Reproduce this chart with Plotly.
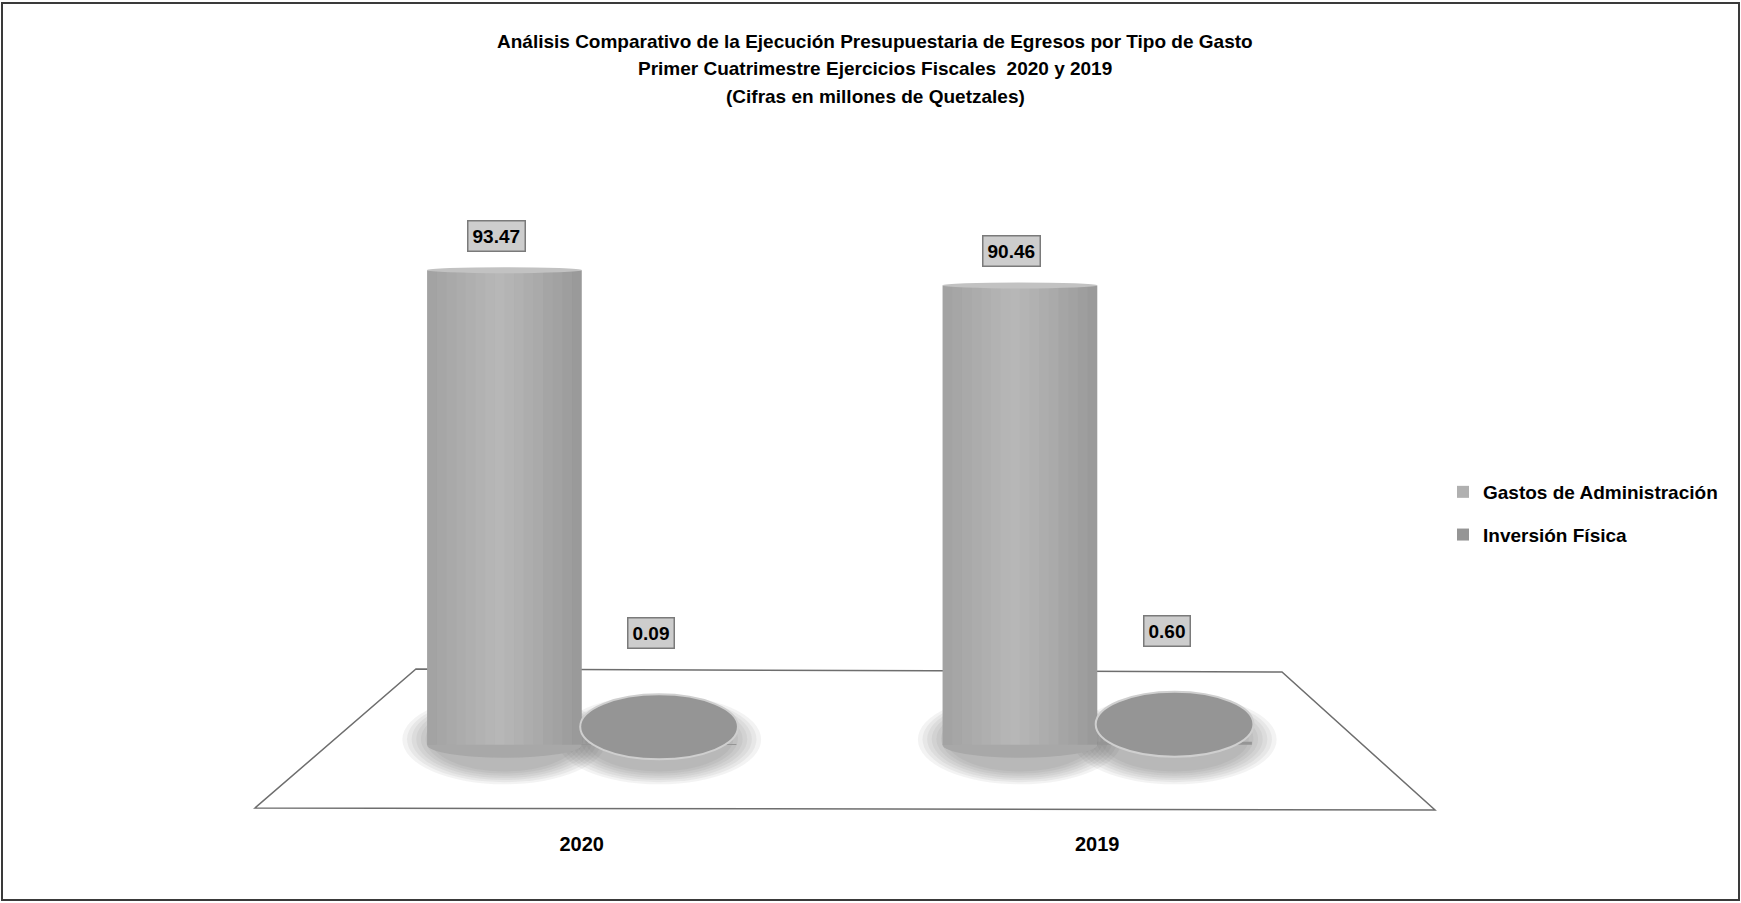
import plotly.graph_objects as go

# ---------------- data ----------------
categories = ["2020", "2019"]
series_names = ["Gastos de Administración", "Inversión Física"]
gastos = [93.47, 90.46]
inversion = [0.09, 0.60]
title_lines = [
    "Análisis Comparativo de la Ejecución Presupuestaria de Egresos por Tipo de Gasto",
    "Primer Cuatrimestre Ejercicios Fiscales  2020 y 2019",
    "(Cifras en millones de Quetzales)",
]

# ---------------- layout geometry ----------------
W, H = 1741, 903
L, R, T, B = 324, 386, 237, 82
pw, ph = W - L - R, H - T - B
YMIN, YMAX = -15, 100
upx = ph / (YMAX - YMIN)          # pixels per data unit
BARGAP = 0.4
bw = (1 - BARGAP) / 2             # width of one bar in category units
offsets = [-bw / 2, bw / 2]

FONT = "Liberation Sans, Arial, sans-serif"
bar_colors = ["#b0b0b0", "#959595"]


def pxx(px):
    return (px - L) / pw


def pxy(py):
    return (H - B - py) / ph


fig = go.Figure()
series = [gastos, inversion]
for i, (name, vals) in enumerate(zip(series_names, series)):
    fig.add_trace(go.Bar(
        x=categories, y=vals, name=name,
        marker=dict(color=bar_colors[i], line=dict(width=0)),
        legendgroup=name, hoverinfo="x+y+name",
    ))

shapes = []
# outer border
shapes.append(dict(type="rect", xref="paper", yref="paper",
                   x0=pxx(2), x1=pxx(1739), y0=pxy(900), y1=pxy(3),
                   line=dict(color="#3a3a3a", width=2), fillcolor="rgba(0,0,0,0)",
                   layer="below"))
# 3D floor
floor = [(416, 669), (1282, 672), (1435, 810), (255, 808)]
path = "M " + " L ".join(f"{pxx(a):.4f},{pxy(b):.4f}" for a, b in floor) + " Z"
shapes.append(dict(type="path", xref="paper", yref="paper", path=path,
                   line=dict(color="#6e6e6e", width=1.5), fillcolor="white",
                   layer="below"))

annotations = []
# soft shadows (drawn first, below everything)
for i, vals in enumerate(series):
    for j, v in enumerate(vals):
        xc = j + offsets[i]
        for s in [1.32, 1.26, 1.20, 1.14, 1.08, 1.02, 0.96]:
            shapes.append(dict(type="circle", xref="x", yref="y",
                               x0=xc - bw / 2 * s, x1=xc + bw / 2 * s,
                               y0=(-36 * s + 8) / upx, y1=(32 * s + 8) / upx,
                               fillcolor="rgba(70,70,70,0.065)", line=dict(width=0),
                               layer="below"))

for i, vals in enumerate(series):
    for j, v in enumerate(vals):
        xc = j + offsets[i]
        if i == 0:
            # rounded bottom of cylinder
            shapes.append(dict(type="circle", xref="x", yref="y",
                               x0=xc - bw / 2, x1=xc + bw / 2,
                               y0=-13 / upx, y1=13 / upx,
                               fillcolor="#a8a8a8", line=dict(width=0),
                               layer="below"))
            # cylindrical shading strips
            nstrip = 16
            for s in range(nstrip):
                t = (s + 0.5) / nstrip
                if t < 0.3:
                    col = f"rgba(70,70,70,{0.14 * (0.3 - t) / 0.3:.3f})"
                elif t < 0.62:
                    col = f"rgba(255,255,255,{0.10 * (1 - abs(t - 0.46) / 0.16):.3f})"
                else:
                    col = f"rgba(60,60,60,{0.20 * (t - 0.62) / 0.38:.3f})"
                shapes.append(dict(type="rect", xref="x", yref="y",
                                   x0=xc - bw / 2 + bw * s / nstrip,
                                   x1=xc - bw / 2 + bw * (s + 1) / nstrip,
                                   y0=0, y1=v, fillcolor=col, line=dict(width=0),
                                   layer="above"))
            # top cap
            shapes.append(dict(type="circle", xref="x", yref="y",
                               x0=xc - bw / 2, x1=xc + bw / 2,
                               y0=v - 3 / upx, y1=v + 3 / upx,
                               fillcolor="#c2c2c2", line=dict(width=0),
                               layer="above"))
            yshift = 18
        else:
            # flat disk for the near-zero values
            shapes.append(dict(type="circle", xref="x", yref="y",
                               x0=xc - bw * 0.51, x1=xc + bw * 0.51,
                               y0=v - 15 / upx, y1=v + 50 / upx,
                               fillcolor=bar_colors[i],
                               line=dict(color="#cfcfcf", width=2),
                               layer="above"))
            yshift = 95
        annotations.append(dict(
            x=xc, y=v, xref="x", yref="y", text=f"<b>{v:.2f}</b>",
            showarrow=False, yanchor="bottom", yshift=yshift, xshift=-8,
            font=dict(family=FONT, size=19, color="black"),
            bgcolor="#cdcdcd", bordercolor="#7a7a7a", borderwidth=1.5, borderpad=4,
        ))

for k, (line, py) in enumerate(zip(title_lines, [42, 69, 96])):
    annotations.append(dict(
        x=pxx(875), y=pxy(py), xref="paper", yref="paper",
        text=f"<b>{line}</b>", showarrow=False, xanchor="center", yanchor="middle",
        font=dict(family=FONT, size=19, color="black"),
    ))

fig.update_layout(
    width=W, height=H,
    margin=dict(l=L, r=R, t=T, b=B),
    paper_bgcolor="white", plot_bgcolor="rgba(0,0,0,0)",
    barmode="group", bargap=BARGAP, bargroupgap=0,
    shapes=shapes, annotations=annotations,
    font=dict(family=FONT, color="black"),
    legend=dict(x=pxx(1443), y=pxy(473), xanchor="left", yanchor="top",
                font=dict(family=FONT, size=19, color="black", weight="bold"),
                tracegroupgap=15, itemwidth=30, bgcolor="rgba(0,0,0,0)",
                traceorder="grouped"),
    showlegend=True,
    xaxis=dict(type="category", range=[-0.5, 1.5], showgrid=False, zeroline=False,
               showline=False, ticks="", ticklabelstandoff=9,
               tickfont=dict(family=FONT, size=20, color="black", weight="bold"),
               tickvals=categories, ticktext=categories),
    yaxis=dict(range=[YMIN, YMAX], visible=False, showgrid=False, zeroline=False),
)

fig.write_html("out.html", config={"displayModeBar": False},
               post_script="document.body.style.margin='0';document.body.style.overflow='hidden';")
